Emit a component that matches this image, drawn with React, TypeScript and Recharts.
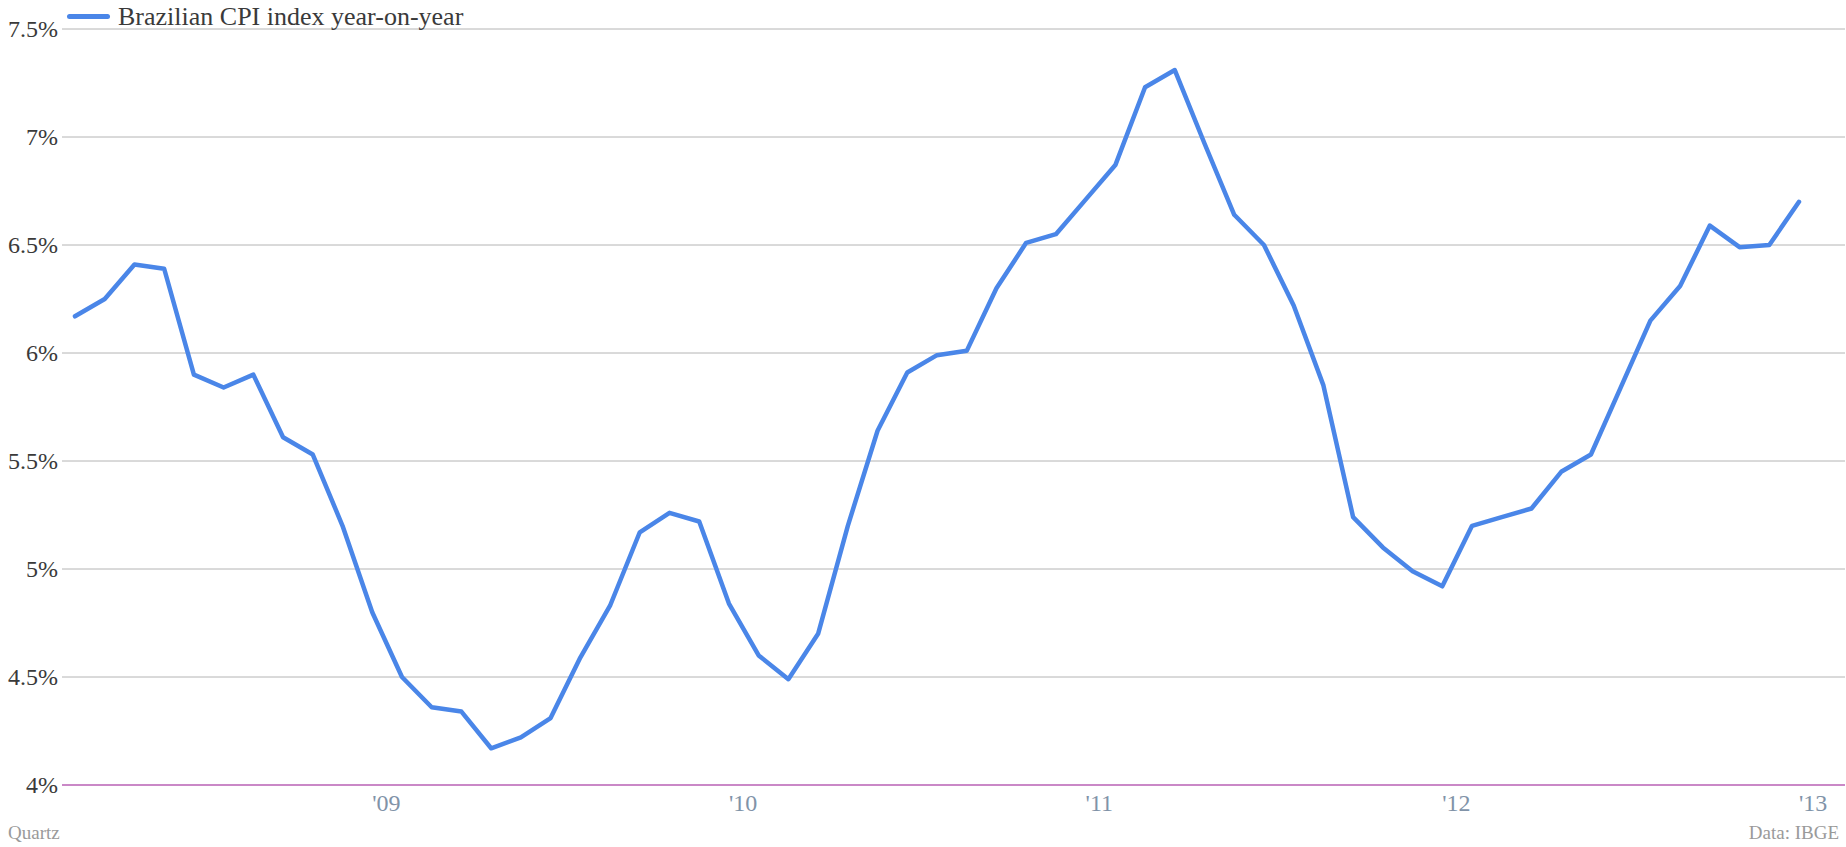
import { LineChart, Line, XAxis, YAxis, CartesianGrid, ReferenceLine } from "recharts";

// ---------------------------------------------------------------------------
// Data
// ---------------------------------------------------------------------------

// month of each point, as dated on the chart's own axis
const MONTHS = [
  "2008-03", "2008-04", "2008-05", "2008-06", "2008-07", "2008-08", "2008-09", "2008-10", "2008-11", "2008-12",
  "2009-01", "2009-02", "2009-03", "2009-04", "2009-05", "2009-06", "2009-07", "2009-08", "2009-09", "2009-10", "2009-11", "2009-12",
  "2010-01", "2010-02", "2010-03", "2010-04", "2010-05", "2010-06", "2010-07", "2010-08", "2010-09", "2010-10", "2010-11", "2010-12",
  "2011-01", "2011-02", "2011-03", "2011-04", "2011-05", "2011-06", "2011-07", "2011-08", "2011-09", "2011-10", "2011-11", "2011-12",
  "2012-01", "2012-02", "2012-03", "2012-04", "2012-05", "2012-06", "2012-07", "2012-08", "2012-09", "2012-10", "2012-11", "2012-12",
  "2013-01",
];

// Brazilian CPI, % year-on-year
const CPI = [
  6.17, 6.25, 6.41, 6.39, 5.9, 5.84, 5.9, 5.61, 5.53, 5.2,
  4.8, 4.5, 4.36, 4.34, 4.17, 4.22, 4.31, 4.59, 4.83, 5.17, 5.26, 5.22,
  4.84, 4.6, 4.49, 4.7, 5.2, 5.64, 5.91, 5.99, 6.01, 6.3, 6.51, 6.55,
  6.71, 6.87, 7.23, 7.31, 6.97, 6.64, 6.5, 6.22, 5.85, 5.24, 5.1, 4.99,
  4.92, 5.2, 5.24, 5.28, 5.45, 5.53, 5.84, 6.15, 6.31, 6.59, 6.49, 6.5,
  6.7,
];

const Y_TICKS = [4, 4.5, 5, 5.5, 6, 6.5, 7, 7.5];
const Y_LABELS = ["4%", "4.5%", "5%", "5.5%", "6%", "6.5%", "7%", "7.5%"];

const SERIES_LABEL = "Brazilian CPI index year-on-year";
const SOURCE = "Data: IBGE";
const CREDIT = "Quartz";

// ---------------------------------------------------------------------------
// Style
// ---------------------------------------------------------------------------

const FONT = "'Liberation Serif', 'DejaVu Serif', serif";
const LINE_COLOR = "#4a86e8";

const data = MONTHS.map((m, i) => ({ i, month: m, cpi: CPI[i] }));
const xTicks = data.filter((d) => d.month.endsWith("-01")).map((d) => d.i);

function XTick({ x, y, payload }: any) {
  const label = "'" + MONTHS[payload.value].slice(2, 4);
  return (
    <text x={x} y={y + 26} textAnchor="start" fontFamily={FONT} fontSize={24} fill="#8193a8">
      {label}
    </text>
  );
}

function YTick({ x, y, payload }: any) {
  const label = Y_LABELS[Y_TICKS.indexOf(payload.value)];
  return (
    <text x={x - 4} y={y} dy="0.35em" textAnchor="end" fontFamily={FONT} fontSize={24} fill="#3a3a3a">
      {label}
    </text>
  );
}

export default function App() {
  return (
    <div style={{ position: "absolute", left: 0, top: 0, width: 1846, height: 847, background: "#fff" }}>
      <LineChart width={1846} height={847} data={data} margin={{ top: 29, right: 1, bottom: 0, left: 0 }}>
        <CartesianGrid horizontal vertical={false} stroke="#b4b4b4" strokeWidth={1} />
        <XAxis
          dataKey="i"
          type="number"
          domain={[0, MONTHS.length - 1]}
          ticks={xTicks}
          padding={{ left: 13, right: 46 }}
          height={62}
          axisLine={false}
          tickLine={false}
          tickSize={0}
          tickMargin={0}
          interval={0}
          tick={<XTick />}
        />
        <YAxis
          domain={[4, 7.5]}
          ticks={Y_TICKS}
          width={62}
          axisLine={false}
          tickLine={false}
          tickSize={0}
          tickMargin={0}
          interval={0}
          tick={<YTick />}
        />
        <ReferenceLine y={4} stroke="#c46dc0" strokeWidth={1.5} />
        <Line
          dataKey="cpi"
          type="linear"
          stroke={LINE_COLOR}
          strokeWidth={4.5}
          strokeLinejoin="round"
          strokeLinecap="round"
          dot={false}
          activeDot={false}
          isAnimationActive={false}
        />
      </LineChart>

      {/* legend */}
      <div style={{ position: "absolute", left: 67, top: 14, width: 43, height: 5, borderRadius: 3, background: LINE_COLOR }} />
      <div
        style={{
          position: "absolute",
          left: 118,
          top: 2,
          fontFamily: FONT,
          fontSize: 26,
          lineHeight: "30px",
          color: "#3a3a3a",
          whiteSpace: "nowrap",
        }}
      >
        {SERIES_LABEL}
      </div>

      {/* footer */}
      <div style={{ position: "absolute", left: 8, top: 822, fontFamily: FONT, fontSize: 19, lineHeight: "22px", color: "#9a9a9a" }}>
        {CREDIT}
      </div>
      <div
        style={{
          position: "absolute",
          right: 7,
          top: 822,
          fontFamily: FONT,
          fontSize: 19,
          lineHeight: "22px",
          color: "#9a9a9a",
        }}
      >
        {SOURCE}
      </div>
    </div>
  );
}
